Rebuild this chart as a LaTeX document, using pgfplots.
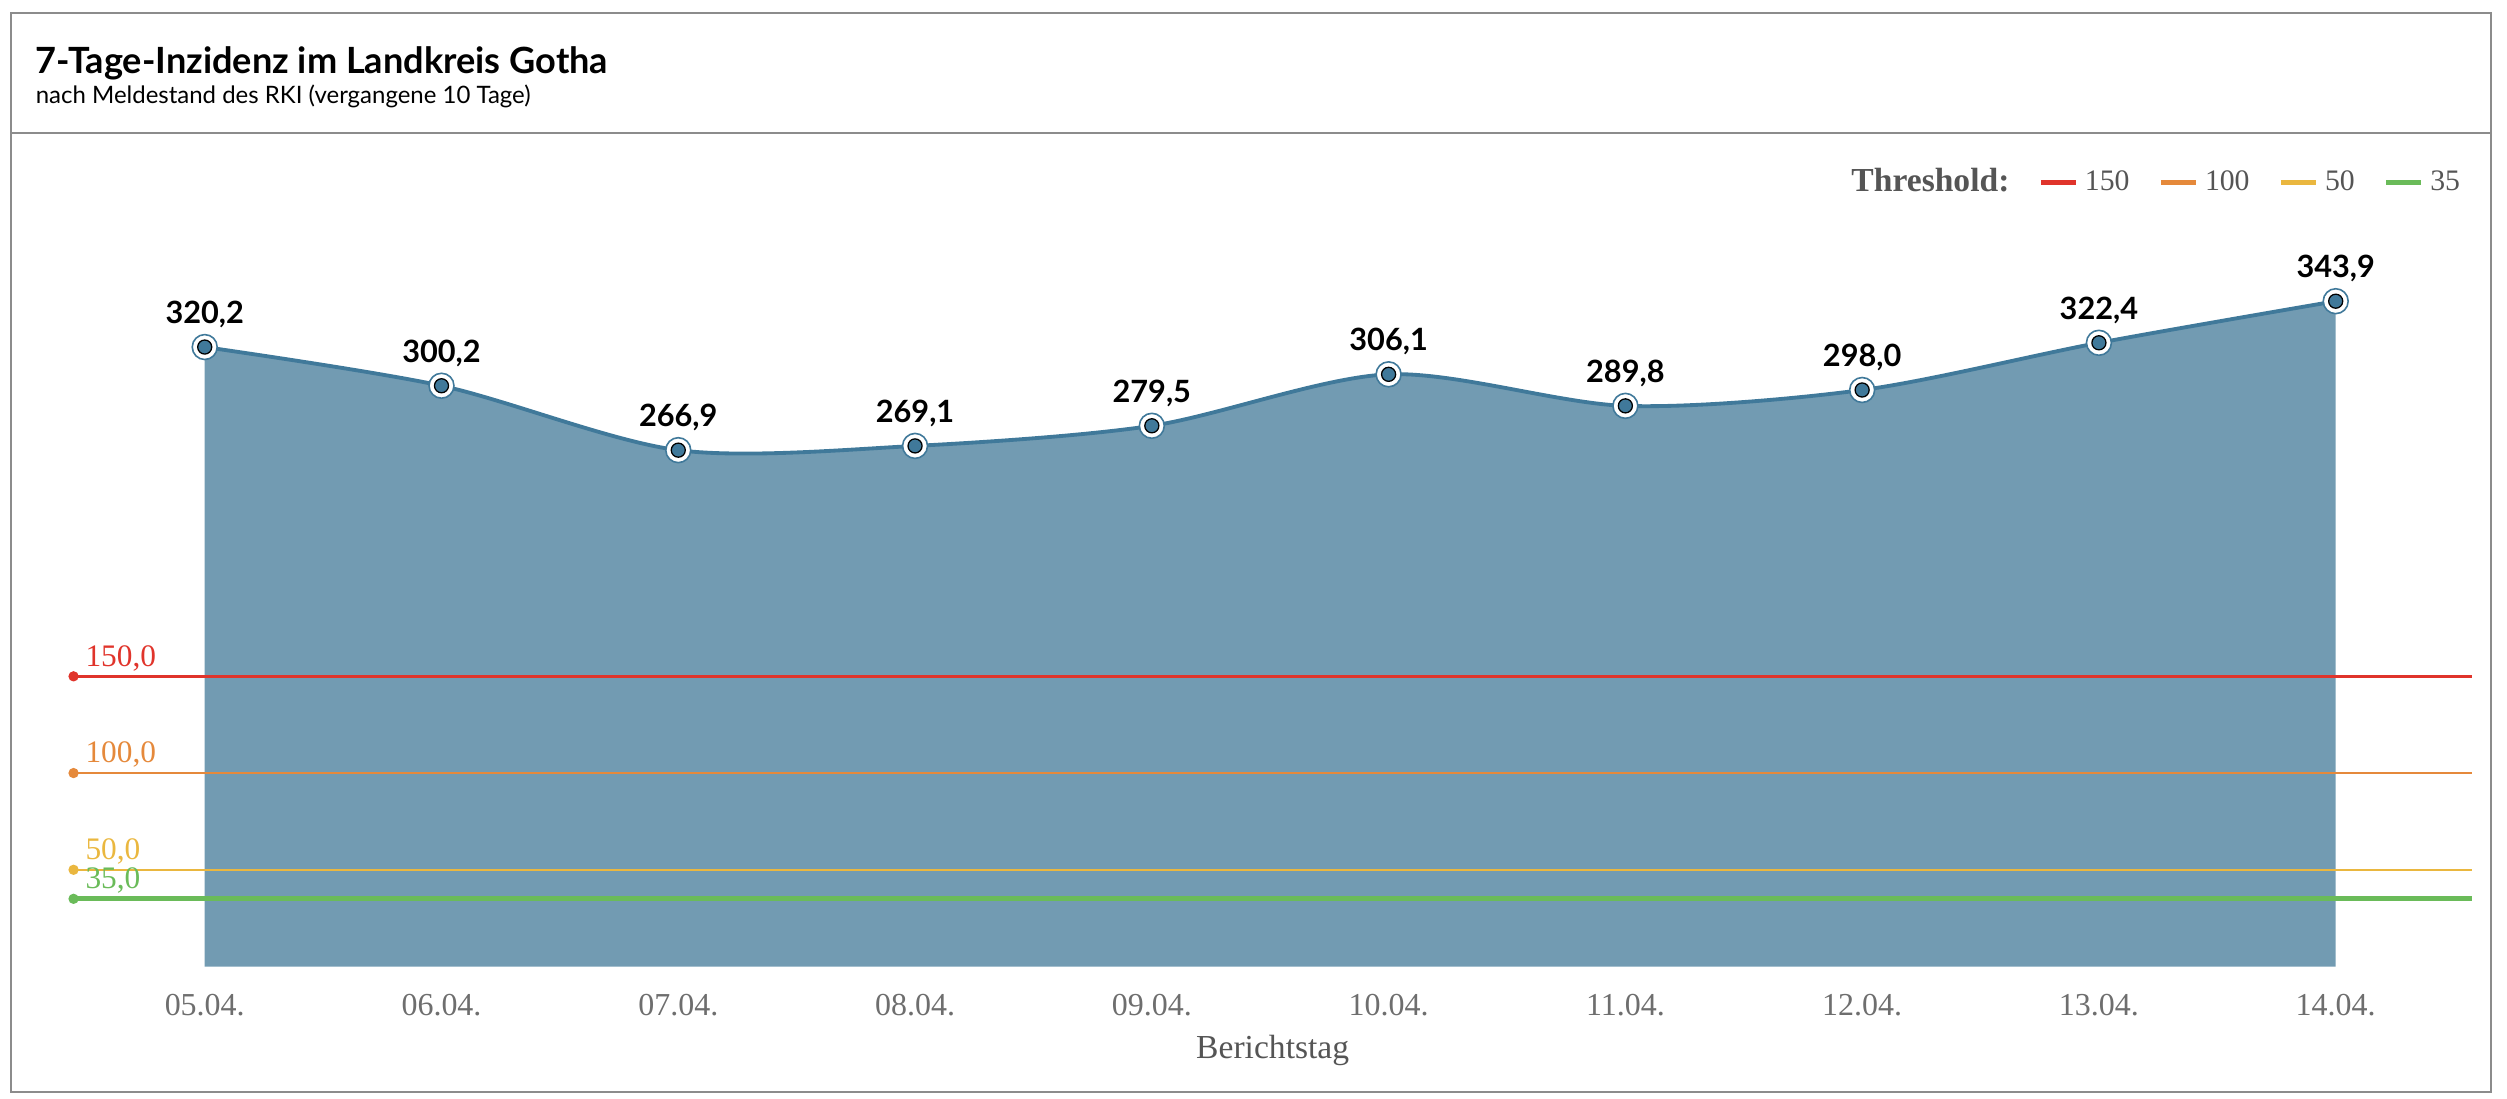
\documentclass[border=0pt]{standalone}
\usepackage{fontspec}
\setmainfont{Lato}
\newfontfamily\serif{Liberation Serif}
\usepackage{pgfplots}
\pgfplotsset{compat=1.18}
\definecolor{areablue}{RGB}{114,155,178}
\definecolor{lineblue}{RGB}{64,121,154}
\definecolor{thred}{RGB}{224,52,43}
\definecolor{thorange}{RGB}{229,137,59}
\definecolor{thyellow}{RGB}{234,183,63}
\definecolor{thgreen}{RGB}{106,187,89}
\definecolor{framegray}{RGB}{140,140,140}
\definecolor{tickgray}{RGB}{110,110,110}
\definecolor{labgray}{RGB}{85,85,85}

\pgfplotstableread{
x y lab
0 320.2 320,2
1 300.2 300,2
2 266.9 266,9
3 269.1 269,1
4 279.5 279,5
5 306.1 306,1
6 289.8 289,8
7 298.0 298,0
8 322.4 322,4
9 343.9 343,9
}\inzidenz

\begin{document}
\begin{tikzpicture}
\begin{scope}[x=0.5pt,y=-0.5pt]
\path (0,0) rectangle (1568,687);
\draw[framegray, line width=0.7pt] (7,8) rectangle (1558,683);
\draw[framegray, line width=0.7pt] (7,83) -- (1558,83);
\node[anchor=base west, inner sep=0, font=\bfseries\fontsize{11.3}{13}\selectfont] at (22,46) {7-Tage-Inzidenz im Landkreis Gotha};
\node[anchor=base west, inner sep=0, font=\fontsize{7.5}{9}\selectfont] at (22,65) {nach Meldestand des RKI (vergangene 10 Tage)};
\end{scope}
\begin{axis}[
  at={(23pt,-302.25pt)}, anchor=south west,
  scale only axis, width=750pt, height=257.25pt,
  xmin=-0.554, xmax=9.575, ymin=0, ymax=425.2,
  axis line style={draw=none},
  major tick length=0pt,
  ytick=\empty,
  xtick={0,...,9},
  xticklabels={05.04.,06.04.,07.04.,08.04.,09.04.,10.04.,11.04.,12.04.,13.04.,14.04.},
  xticklabel style={font=\serif\fontsize{10}{12}\selectfont, text=tickgray, yshift=-5pt},
  xlabel={Berichtstag},
  xlabel style={at={(axis description cs:0.5,-0.102)}, anchor=center, font=\serif\fontsize{10.5}{12}\selectfont, text=labgray},
  /pgf/number format/assume math mode=true,
  clip=false,
  legend style={draw=none, fill=none, at={(rel axis cs:1.002,0.953)}, anchor=east,
    font=\serif\fontsize{9.3}{11}\selectfont, text=labgray,
    /tikz/every odd column/.append style={column sep=0pt},
    /tikz/every even column/.append style={column sep=7pt}},
  legend columns=-1,
  legend image code/.code={\draw[#1, line width=1.6pt] (0pt,0pt) -- (11pt,0pt);},
]
\addplot[fill=areablue, draw=none, smooth, forget plot] table[x=x,y=y] {\inzidenz} \closedcycle;

\addlegendimage{empty legend}
\addlegendentry{\fontsize{10.5}{12}\selectfont\bfseries Threshold:\hspace{-2pt}}

\addplot[thred, line width=0.8pt] coordinates {(-0.554,150) (9.575,150)};
\addlegendentry{150}
\addplot[thorange, line width=0.8pt] coordinates {(-0.554,100) (9.575,100)};
\addlegendentry{100}
\addplot[thyellow, line width=0.8pt] coordinates {(-0.554,50) (9.575,50)};
\addlegendentry{50}
\addplot[thgreen, line width=1.6pt] coordinates {(-0.554,35) (9.575,35)};
\addlegendentry{35}

\addplot[thred, only marks, mark=*, mark size=1.4pt, forget plot] coordinates {(-0.554,150)};
\addplot[thorange, only marks, mark=*, mark size=1.4pt, forget plot] coordinates {(-0.554,100)};
\addplot[thyellow, only marks, mark=*, mark size=1.4pt, forget plot] coordinates {(-0.554,50)};
\addplot[thgreen, only marks, mark=*, mark size=1.4pt, forget plot] coordinates {(-0.554,35)};

\node[anchor=base west, inner sep=0, text=thred, font=\serif\fontsize{9.8}{10}\selectfont, yshift=3.2pt] at (axis cs:-0.506,150) {150,0};
\node[anchor=base west, inner sep=0, text=thorange, font=\serif\fontsize{9.8}{10}\selectfont, yshift=3.2pt] at (axis cs:-0.506,100) {100,0};
\node[anchor=base west, inner sep=0, text=thyellow, font=\serif\fontsize{9.8}{10}\selectfont, yshift=3.2pt] at (axis cs:-0.506,50) {50,0};
\node[anchor=base west, inner sep=0, text=thgreen, font=\serif\fontsize{9.8}{10}\selectfont, yshift=3.2pt] at (axis cs:-0.506,35) {35,0};

\addplot[lineblue, line width=1.2pt, smooth, forget plot] table[x=x,y=y] {\inzidenz};
\addplot[only marks, mark=*, mark size=3.9pt, mark options={fill=white, draw=lineblue, line width=0.5pt}, forget plot] table[x=x,y=y] {\inzidenz};
\addplot[only marks, mark=*, mark size=2.2pt, mark options={fill=lineblue, draw=none}, forget plot,
  nodes near coords, point meta=explicit symbolic,
  nodes near coords style={font=\bfseries\fontsize{9.6}{11}\selectfont, text=black, anchor=south, inner sep=0pt, yshift=5.8pt}]
  table[x=x,y=y,meta=lab] {\inzidenz};
\end{axis}
\end{tikzpicture}
\end{document}
